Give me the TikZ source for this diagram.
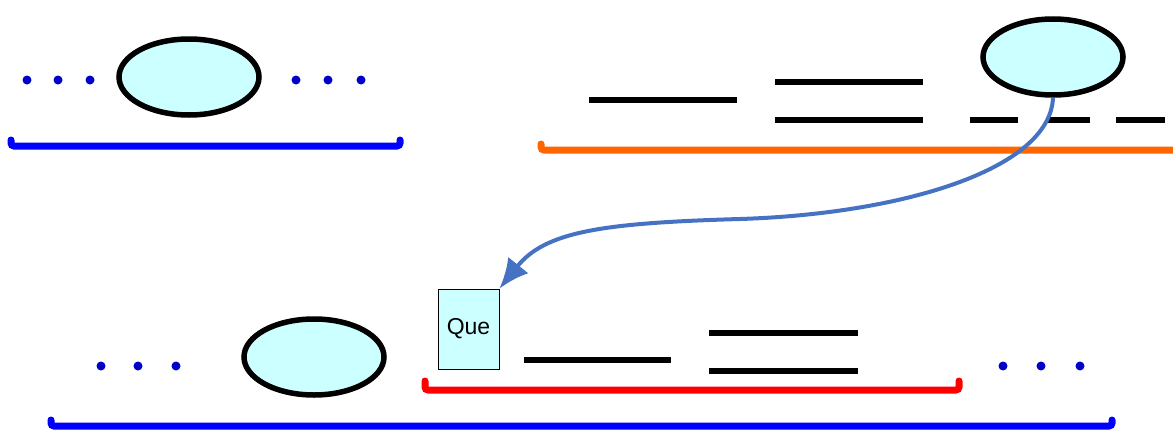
\documentclass[tikz,border=0pt]{standalone}
\usepackage{fontspec}
\setmainfont{Liberation Sans}
\usetikzlibrary{shapes.geometric,arrows.meta}
\definecolor{bubble}{RGB}{204,255,255}
\definecolor{dotblue}{RGB}{0,0,200}
\definecolor{brblue}{RGB}{0,0,255}
\definecolor{brorange}{RGB}{255,102,0}
\definecolor{brred}{RGB}{255,0,0}
\definecolor{arrowblue}{RGB}{70,114,196}
\tikzset{
  bubblenode/.style={ellipse, draw=black, line width=5.5pt, fill=bubble, minimum width=140pt, minimum height=76pt, inner sep=0pt},
  quebox/.style={rectangle, draw=black, line width=0.8pt, fill=bubble, minimum width=61pt, minimum height=80pt, inner sep=0pt, font=\fontsize{23pt}{26pt}\selectfont},
  bar/.style={line width=5.5pt, black},
  bracketline/.style={line width=7pt, rounded corners=3pt, line cap=round},
  dotmark/.style={fill=dotblue},
  linkarrow/.style={arrowblue, line width=4pt, -{Latex[length=30pt,width=26pt]}}
}
\begin{document}
\begin{tikzpicture}[x=1pt,y=-1pt]
\useasboundingbox (0,0) rectangle (1173,431);
% top-left group
\foreach \x in {27,58,90,296,328,361} \fill[dotmark] (\x,80) circle (4.5pt);
\node[bubblenode] (e1) at (189,77) {};
\draw[bracketline, brblue] (11,140) -- (11,146) -- (400,146) -- (400,140);
% top-right group
\draw[bar] (589,100) -- (737,100);
\draw[bar] (775,82) -- (923,82);
\draw[bar] (775,120) -- (923,120);
\draw[bar] (970,120) -- (1018,120);
\draw[bar] (1046,120) -- (1090,120);
\draw[bar] (1116,120) -- (1165,120);
\node[bubblenode] (e2) at (1053,57) {};
\draw[bracketline, brorange] (541,144) -- (541,150) -- (1173,150);
% bottom group
\foreach \x in {101,138,176,1003,1041,1080} \fill[dotmark] (\x,366) circle (4.5pt);
\node[bubblenode] (e3) at (314,357) {};
\node[quebox] (q) at (468.5,329) {Que};
\draw[bar] (524,360) -- (671,360);
\draw[bar] (709,333) -- (858,333);
\draw[bar] (709,371) -- (858,371);
\draw[bracketline, brred] (425,381) -- (425,390) -- (959,390) -- (959,381);
\draw[bracketline, brblue] (51,420) -- (51,426) -- (1112,426) -- (1112,420);
% connector
\draw[linkarrow] (e2.south) .. controls (1050,170) and (900,214) .. (740,219) .. controls (600,223) and (545,232) .. (q.north east);
\end{tikzpicture}
\end{document}
